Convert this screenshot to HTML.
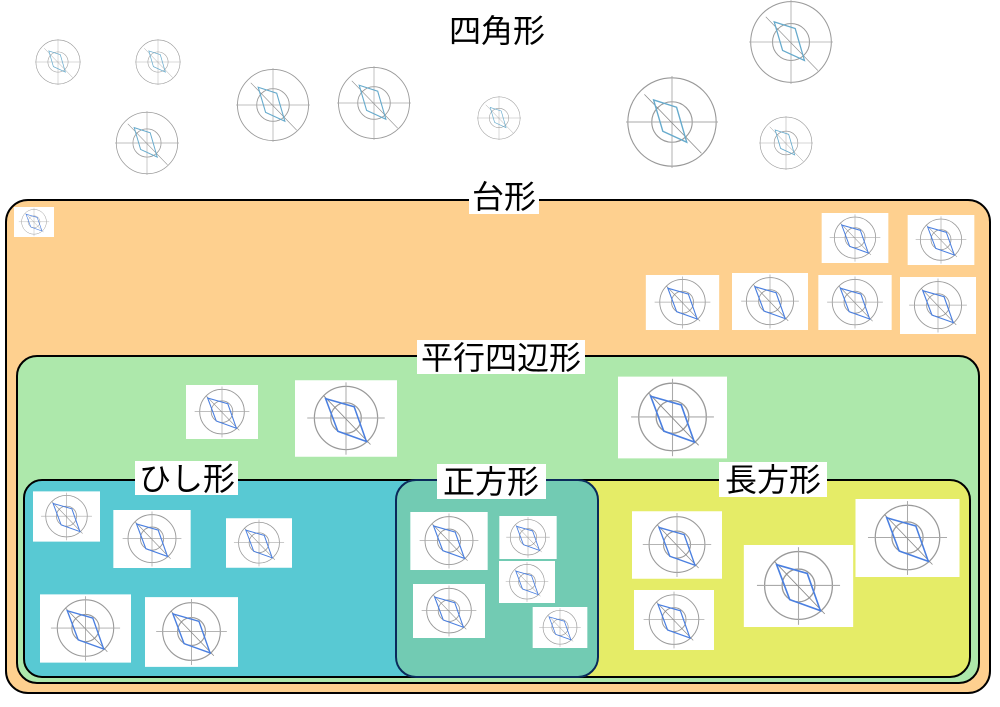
<!DOCTYPE html>
<html><head><meta charset="utf-8"><style>
html,body{margin:0;padding:0;background:#fff;}
svg{display:block;}
text{font-family:"Liberation Sans","Noto Sans CJK JP",sans-serif;font-size:32px;fill:#000;}
</style></head><body>
<svg width="1000" height="707" viewBox="0 0 1000 707" xmlns="http://www.w3.org/2000/svg">
<defs>
<symbol id="t" viewBox="0 0 100 75" preserveAspectRatio="xMidYMid meet">
<rect x="0" y="0" width="100" height="75" fill="#fff"/>
<circle cx="50" cy="37" r="31" fill="none" stroke="#999" stroke-width="1.2"/>
<circle cx="50" cy="37" r="15" fill="none" stroke="#999" stroke-width="1.2"/>
<line x1="12" y1="37" x2="88" y2="37" stroke="#aaa" stroke-width="1"/>
<line x1="50" y1="2" x2="50" y2="73" stroke="#aaa" stroke-width="1"/>
<line x1="28" y1="15" x2="74" y2="63" stroke="#888" stroke-width="0.8"/>
<polygon points="30,18 58,26 70,60 42,50" fill="none" stroke="#4a7fe0" stroke-width="1.5"/>
</symbol>
<symbol id="c" viewBox="0 0 100 100">
<circle cx="50" cy="50" r="48" fill="none" stroke="#999" stroke-width="1.2"/>
<circle cx="50" cy="50" r="22" fill="none" stroke="#999" stroke-width="1.2"/>
<line x1="0" y1="50" x2="100" y2="50" stroke="#aaa"/>
<line x1="50" y1="0" x2="50" y2="100" stroke="#aaa"/>
<line x1="20" y1="20" x2="82" y2="84" stroke="#888" stroke-width="0.8"/>
<polygon points="30,26 55,34 66,72 40,60" fill="none" stroke="#6ac" stroke-width="1.5"/>
</symbol>
</defs>
<use href="#c" x="35" y="39" width="46" height="46"/>
<use href="#c" x="135" y="39" width="46" height="46"/>
<use href="#c" x="115" y="111" width="64" height="64"/>
<use href="#c" x="236" y="68" width="74" height="74"/>
<use href="#c" x="337" y="66" width="74" height="74"/>
<use href="#c" x="477" y="96" width="44" height="44"/>
<use href="#c" x="626" y="76" width="92" height="92"/>
<use href="#c" x="749" y="0" width="84" height="84"/>
<use href="#c" x="759" y="116" width="54" height="54"/>
<text x="497" y="42" text-anchor="middle">四角形</text>

<rect x="6" y="200" width="984" height="493" rx="22" fill="#fed08f" stroke="#000" stroke-width="2"/>
<rect x="469" y="180" width="70" height="34" fill="#fff"/>
<text x="504" y="208" text-anchor="middle">台形</text>
<use href="#t" x="12" y="207" width="44" height="30"/>
<use href="#t" x="821" y="213" width="68" height="50"/>
<use href="#t" x="907" y="215" width="68" height="50"/>
<use href="#t" x="643" y="275" width="79" height="55"/>
<use href="#t" x="732" y="273" width="76" height="57"/>
<use href="#t" x="818" y="275" width="74" height="55"/>
<use href="#t" x="900" y="277" width="76" height="57"/>

<rect x="17" y="356" width="962" height="327" rx="20" fill="#ade8ab" stroke="#000" stroke-width="2"/>
<rect x="417" y="340" width="168" height="34" fill="#fff"/>
<text x="501" y="369" text-anchor="middle">平行四辺形</text>
<use href="#t" x="186" y="385" width="72" height="54"/>
<use href="#t" x="295" y="380" width="102" height="77"/>
<use href="#t" x="618" y="376" width="109" height="83"/>

<rect x="380" y="480" width="590" height="197" rx="20" fill="#e5ec67" stroke="#000" stroke-width="2"/>
<rect x="24" y="480" width="420" height="197" rx="18" fill="#58c9d3" stroke="#000" stroke-width="2"/>
<rect x="396" y="480" width="202" height="197" rx="20" fill="#72cbb3" stroke="#0a2a5a" stroke-width="2"/>

<rect x="135" y="461" width="103" height="34" fill="#fff"/>
<text x="187" y="490" text-anchor="middle">ひし形</text>
<rect x="437" y="464" width="109" height="35" fill="#fff"/>
<text x="491" y="493" text-anchor="middle">正方形</text>
<rect x="719" y="462" width="108" height="35" fill="#fff"/>
<text x="773" y="491" text-anchor="middle">長方形</text>

<use href="#t" x="33" y="491" width="67" height="51"/>
<use href="#t" x="112" y="510" width="80" height="58"/>
<use href="#t" x="226" y="518" width="66" height="50"/>
<use href="#t" x="40" y="594" width="91" height="69"/>
<use href="#t" x="145" y="597" width="93" height="70"/>

<use href="#t" x="410" y="512" width="78" height="58"/>
<use href="#t" x="499" y="516" width="58" height="43"/>
<use href="#t" x="499" y="561" width="56" height="42"/>
<use href="#t" x="413" y="584" width="72" height="54"/>
<use href="#t" x="532" y="607" width="56" height="41"/>

<use href="#t" x="632" y="511" width="90" height="68"/>
<use href="#t" x="634" y="589" width="80" height="62"/>
<use href="#t" x="743" y="545" width="111" height="82"/>
<use href="#t" x="855" y="499" width="105" height="78"/>
</svg>
</body></html>
